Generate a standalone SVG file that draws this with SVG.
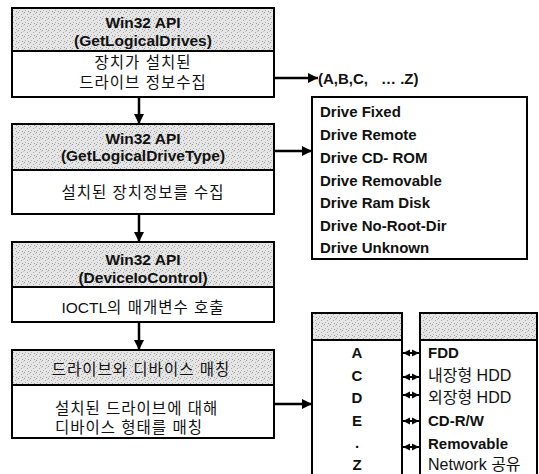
<svg xmlns="http://www.w3.org/2000/svg" width="539" height="474" viewBox="0 0 539 474">
<defs>
<pattern id="stip" width="6" height="6" patternUnits="userSpaceOnUse">
<rect width="6" height="6" fill="#e6e6e6"/>
<rect x="0" y="0" width="1" height="1" fill="#9a9a9a"/>
<rect x="3" y="2" width="1" height="1" fill="#a8a8a8"/>
<rect x="1" y="4" width="1" height="1" fill="#b0b0b0"/>
<rect x="4" y="5" width="1" height="1" fill="#9a9a9a"/>
<rect x="5" y="1" width="1" height="1" fill="#c0c0c0"/>
</pattern>
<marker id="ah" viewBox="0 0 10 10" refX="10" refY="5" markerWidth="10" markerHeight="10" markerUnits="userSpaceOnUse" orient="auto">
<path d="M0,0 L10,5 L0,10 z" fill="#000"/>
</marker>
<marker id="ahs" viewBox="0 0 10 10" refX="10" refY="5" markerWidth="7" markerHeight="8" markerUnits="userSpaceOnUse" orient="auto-start-reverse">
<path d="M0,0 L10,5 L0,10 z" fill="#000"/>
</marker>
</defs>
<style>
.box{fill:#fff;stroke:#000;stroke-width:2}
.hdr{fill:url(#stip);stroke:#000;stroke-width:2}
.en{font-family:"Liberation Sans",Arial,sans-serif;font-size:15px;font-weight:bold;fill:#111}
.hd{font-family:"Liberation Sans",Arial,sans-serif;font-size:15.5px;font-weight:bold;fill:#111}
.ko{font-family:"Liberation Sans","Noto Sans CJK KR",sans-serif;font-size:15.5px;letter-spacing:1px;fill:#111}
.kob{font-family:"Liberation Sans","Noto Sans CJK KR",sans-serif;font-size:16px;fill:#111}
.c{text-anchor:middle}
.con{stroke:#000;stroke-width:2.5;fill:none}
.dbl{stroke:#000;stroke-width:2;fill:none}
</style>
<rect width="539" height="474" fill="#fff"/>

<g id="node1">
<rect class="box" x="12" y="8" width="262" height="89"/>
<rect class="hdr" x="12" y="8" width="262" height="43"/>
<text class="hd c" x="143" y="28">Win32 API</text>
<text class="hd c" x="143" y="46">(GetLogicalDrives)</text>
<text class="ko c" x="143" y="68">장치가 설치된</text>
<text class="ko c" x="143" y="88">드라이브 정보수집</text>
</g>

<g id="node2">
<rect class="box" x="12" y="124" width="262" height="90"/>
<rect class="hdr" x="12" y="124" width="262" height="46"/>
<text class="hd c" x="143" y="144">Win32 API</text>
<text class="hd c" x="143" y="161">(GetLogicalDriveType)</text>
<text class="ko c" x="143" y="198">설치된 장치정보를 수집</text>
</g>

<g id="node3">
<rect class="box" x="12" y="242" width="262" height="80"/>
<rect class="hdr" x="12" y="242" width="262" height="45"/>
<text class="hd c" x="143" y="265">Win32 API</text>
<text class="hd c" x="143" y="283">(DeviceIoControl)</text>
<text class="ko c" x="143" y="313"><tspan letter-spacing="0">IOCTL</tspan>의 매개변수 호출</text>
</g>

<g id="node4">
<rect class="box" x="12" y="350" width="262" height="88"/>
<rect class="hdr" x="12" y="350" width="262" height="35"/>
<text class="ko c" x="141" y="375">드라이브와 디바이스 매칭</text>
<text class="ko" x="55" y="414">설치된 드라이브에 대해</text>
<text class="ko" x="55" y="433">디바이스 형태를 매칭</text>
</g>

<g id="drives">
<text class="en" x="318" y="84">(A,B,C,<tspan x="381">… .Z)</tspan></text>
</g>

<g id="types">
<rect class="box" x="312" y="97" width="215" height="162"/>
<text class="en" x="320" y="117">Drive Fixed</text>
<text class="en" x="320" y="140">Drive Remote</text>
<text class="en" x="320" y="163">Drive CD- ROM</text>
<text class="en" x="320" y="186">Drive Removable</text>
<text class="en" x="320" y="208">Drive Ram Disk</text>
<text class="en" x="320" y="231">Drive No-Root-Dir</text>
<text class="en" x="320" y="253">Drive Unknown</text>
</g>

<g id="letters">
<rect class="box" x="312" y="313" width="90" height="170"/>
<rect class="hdr" x="312" y="313" width="90" height="27"/>
<text class="en c" x="357" y="358">A</text>
<text class="en c" x="357" y="381">C</text>
<text class="en c" x="357" y="403">D</text>
<text class="en c" x="357" y="426">E</text>
<text class="en c" x="357" y="448">.</text>
<text class="en c" x="357" y="470">Z</text>
</g>

<g id="devices">
<rect class="box" x="420" y="313" width="117" height="170"/>
<rect class="hdr" x="420" y="313" width="117" height="27"/>
<text class="en" x="428" y="358">FDD</text>
<text class="kob" x="428" y="381">내장형 HDD</text>
<text class="kob" x="428" y="403">외장형 HDD</text>
<text class="en" x="428" y="426">CD-R/W</text>
<text class="en" x="428" y="449">Removable</text>
<text class="kob" x="428" y="470">Network 공유</text>
</g>

<g id="connectors">
<line class="con" x1="139" y1="97" x2="139" y2="124" marker-end="url(#ah)"/>
<line class="con" x1="139" y1="214" x2="139" y2="242" marker-end="url(#ah)"/>
<line class="con" x1="139" y1="322" x2="139" y2="350" marker-end="url(#ah)"/>
<line class="con" x1="274" y1="78" x2="318" y2="78" marker-end="url(#ah)"/>
<line class="con" x1="274" y1="151" x2="312" y2="151" marker-end="url(#ah)"/>
<line class="con" x1="274" y1="404" x2="312" y2="404" marker-end="url(#ah)"/>
<line class="dbl" x1="403" y1="353" x2="419" y2="353" marker-start="url(#ahs)" marker-end="url(#ahs)"/>
<line class="dbl" x1="403" y1="377" x2="419" y2="377" marker-start="url(#ahs)" marker-end="url(#ahs)"/>
<line class="dbl" x1="403" y1="395" x2="419" y2="395" marker-start="url(#ahs)" marker-end="url(#ahs)"/>
<line class="dbl" x1="403" y1="421" x2="419" y2="421" marker-start="url(#ahs)" marker-end="url(#ahs)"/>
<line class="dbl" x1="403" y1="447" x2="419" y2="447" marker-start="url(#ahs)" marker-end="url(#ahs)"/>
</g>
</svg>
